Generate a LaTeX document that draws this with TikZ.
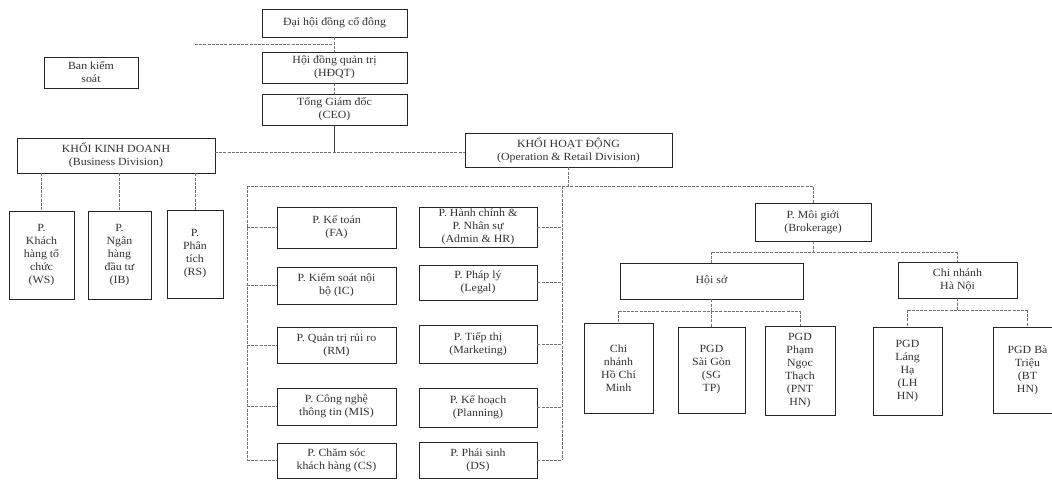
\documentclass[tikz,border=0pt]{standalone}
\usepackage{fontspec}
\setmainfont{Liberation Serif}[FakeStretch=1.08]
\begin{document}
\begin{tikzpicture}[x=1pt,y=-1pt,
  box/.style={draw=black!85, line width=0.8pt, align=center, inner sep=1pt,
    font=\fontsize{11}{13}\selectfont, text=black!80},
  conn/.style={draw=black!55, line width=0.6pt, dash pattern=on 3pt off 1.2pt},
  solidconn/.style={draw=black!75, line width=0.8pt}]
\fill[white] (0,0) rectangle (1052,483);
\useasboundingbox (0,0) rectangle (1052,483);
% top
\node[box, minimum width=145pt, minimum height=28pt] (dhcd) at (334.5,23) {Đại hội đồng cổ đông};
\node[box, minimum width=94pt, minimum height=31pt] (bks) at (91,72.5) {Ban kiểm\\soát};
\node[box, minimum width=145pt, minimum height=31pt] (hdqt) at (334.5,67.5) {Hội đồng quản trị\\(HĐQT)};
\node[box, minimum width=145pt, minimum height=31pt] (ceo) at (334.5,109.5) {Tổng Giám đốc\\(CEO)};
\node[box, minimum width=198pt, minimum height=35pt] (kkd) at (116,155.5) {KHỐI KINH DOANH\\(Business Division)};
\node[box, minimum width=207pt, minimum height=34pt] (khd) at (568.5,150) {KHỐI HOẠT ĐỘNG\\(Operation \& Retail Division)};
% business
\node[box, minimum width=65pt, minimum height=88pt] (ws) at (41.5,255) {P.\\Khách\\hàng tổ\\chức\\(WS)};
\node[box, minimum width=63pt, minimum height=88pt] (ib) at (119.5,255) {P.\\Ngân\\hàng\\đầu tư\\(IB)};
\node[box, minimum width=56pt, minimum height=88pt] (rs) at (195,254) {P.\\Phân\\tích\\(RS)};
% operation left
\node[box, minimum width=119pt, minimum height=41pt] (fa) at (336.5,227.5) {P. Kế toán\\(FA)};
\node[box, minimum width=119pt, minimum height=37pt] (ic) at (336.5,285.5) {P. Kiểm soát nội\\bộ (IC)};
\node[box, minimum width=119pt, minimum height=36pt] (rm) at (336.5,345) {P. Quản trị rủi ro\\(RM)};
\node[box, minimum width=119pt, minimum height=37pt] (mis) at (336.5,406.5) {P. Công nghệ\\thông tin (MIS)};
\node[box, minimum width=119pt, minimum height=35pt] (cs) at (336.5,460.5) {P. Chăm sóc\\khách hàng (CS)};
% operation right
\node[box, minimum width=118pt, minimum height=40pt] (adm) at (478,227) {P. Hành chính \&\\P. Nhân sự\\(Admin \& HR)};
\node[box, minimum width=118pt, minimum height=35pt] (legal) at (478,282.5) {P. Pháp lý\\(Legal)};
\node[box, minimum width=118pt, minimum height=38pt] (mkt) at (478,344) {P. Tiếp thị\\(Marketing)};
\node[box, minimum width=118pt, minimum height=39pt] (plan) at (478,407.5) {P. Kế hoạch\\(Planning)};
\node[box, minimum width=118pt, minimum height=36pt] (ds) at (478,460) {P. Phái sinh\\(DS)};
% brokerage
\node[box, minimum width=116pt, minimum height=38pt] (mg) at (813,222) {P. Môi giới\\(Brokerage)};
\node[box, minimum width=183pt, minimum height=36pt] (hs) at (711.5,281) {Hội sở};
\node[box, minimum width=119pt, minimum height=36pt] (cnhn) at (957.5,280) {Chi nhánh\\Hà Nội};
\node[box, minimum width=69pt, minimum height=90pt] (hcm) at (618.5,368) {Chi\\nhánh\\Hồ Chí\\Minh};
\node[box, minimum width=67pt, minimum height=86pt] (sg) at (711.5,370) {PGD\\Sài Gòn\\(SG\\TP)};
\node[box, minimum width=70pt, minimum height=89pt] (pnt) at (800,370.5) {PGD\\Phạm\\Ngọc\\Thạch\\(PNT\\HN)};
\node[box, minimum width=69pt, minimum height=88pt] (lh) at (907.5,371) {PGD\\Láng\\Hạ\\(LH\\HN)};
\node[box, minimum width=69pt, minimum height=86pt] (bt) at (1027.5,370) {PGD Bà\\Triệu\\(BT\\HN)};
% junction coordinates
\coordinate (bkl) at (195,44);
\coordinate (bkr) at (334.5,44);
\coordinate (hl) at (215,152);
\coordinate (hr) at (465,152);
\coordinate (opl) at (247,186);
\coordinate (opr) at (562,186);
\coordinate (opm) at (813,186);
\coordinate (opbl) at (247,460.5);
\coordinate (opbr) at (562,460);
\coordinate (mgj) at (813,252);
\coordinate (mgl) at (711.5,252);
\coordinate (mgr) at (957.5,252);
\coordinate (hsj) at (711.5,311);
\coordinate (hsl) at (618.5,311);
\coordinate (hsr) at (800,311);
\coordinate (hnj) at (957.5,310);
\coordinate (hnl) at (907.5,310);
\coordinate (hnr) at (1027.5,310);
% connectors
\draw[conn] (dhcd) -- (hdqt);
\draw[conn] (bkl) -- (bkr);
\draw[conn] (hdqt) -- (ceo);
\draw[solidconn] (ceo.south) -- (ceo.south |- hl);
\draw[conn] (hl) -- (hr);
\draw[conn] (kkd.south -| ws.north) -- (ws.north);
\draw[conn] (kkd.south -| ib.north) -- (ib.north);
\draw[conn] (kkd.south -| rs.north) -- (rs.north);
\draw[conn] (khd.south) -- (khd.south |- opl);
\draw[conn] (opl) -- (opm) -- (mg.north);
\draw[conn] (opl) -- (opbl);
\draw[conn] (opr) -- (opbr);
\foreach \n in {fa,ic,rm,mis,cs} \draw[conn] (opl |- \n.west) -- (\n.west);
\foreach \n in {adm,legal,mkt,plan,ds} \draw[conn] (\n.east) -- (opr |- \n.east);
\draw[conn] (mg.south) -- (mgj);
\draw[conn] (mgl) -- (mgr);
\draw[conn] (mgl) -- (hs.north);
\draw[conn] (mgr) -- (cnhn.north);
\draw[conn] (hs.south) -- (hsj);
\draw[conn] (hsl) -- (hsr);
\draw[conn] (hsl) -- (hcm.north);
\draw[conn] (hsj) -- (sg.north);
\draw[conn] (hsr) -- (pnt.north);
\draw[conn] (cnhn.south) -- (hnj);
\draw[conn] (hnl) -- (hnr);
\draw[conn] (hnl) -- (lh.north);
\draw[conn] (hnr) -- (bt.north);
\end{tikzpicture}
\end{document}
